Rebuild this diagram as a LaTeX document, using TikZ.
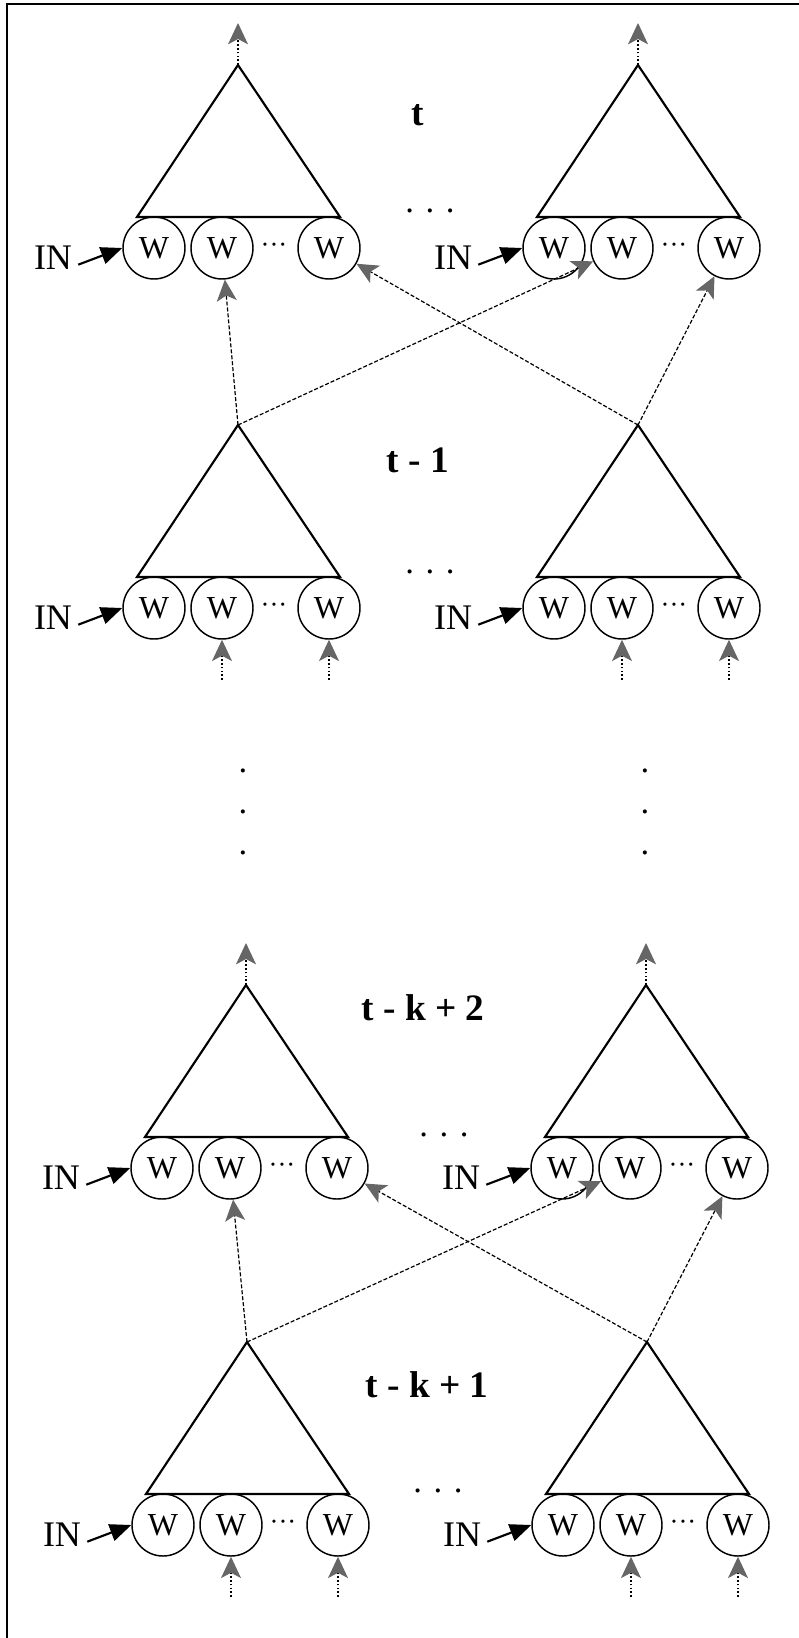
\documentclass[tikz,border=0pt]{standalone}
\usepackage{fontspec}
\setmainfont{Liberation Serif}
\usetikzlibrary{arrows.meta}
\tikzset{
  tri/.style={line width=1.6pt, line join=miter},
  wc/.style={circle, draw, line width=1.1pt, minimum size=46.5pt, inner sep=0pt, font=\fontsize{24}{26}\selectfont},
  inlbl/.style={inner sep=0pt, font=\fontsize{27}{30}\selectfont},
  inarr/.style={-{Triangle[length=16pt,width=13pt]}, line width=1.6pt},
  mdots/.style={inner sep=0pt, font=\fontsize{20}{22}\selectfont},
  hdots/.style={inner sep=0pt, font=\fontsize{26}{28}\selectfont},
  vdots/.style={inner sep=0pt, align=center, font=\fontsize{26}{30.5}\selectfont},
  lbl/.style={inner sep=0pt, font=\fontsize{28}{30}\selectfont\bfseries},
  gtip/.style={-{Stealth[length=16pt,width=15pt,inset=4pt,color=black!60]}},
  conn/.style={gtip, dash pattern=on 3pt off 1.5pt, line width=0.9pt},
  feed/.style={gtip, dash pattern=on 1.3pt off 1.6pt, line width=1pt},
  frame/.style={line width=1.6pt}
}
\newcommand\mygroup[3]{%
\begin{scope}[shift={(#2,#3)}]
\coordinate (#1a) at (0,0);
\coordinate (#1out) at (0,-42);
\coordinate (#1b2) at (-16,255);
\coordinate (#1b3) at (91,255);
\draw[tri] (0,0) -- (-101,152) -- (102,152) -- cycle;
\node[wc] (#1c1) at (-84,183) {W};
\node[wc] (#1c2) at (-16,183) {W};
\node[wc] (#1c3) at (91,183) {W};
\node[mdots] (#1d) at (36,183) {···};
\node[inlbl] (#1in) at (-185,193) {IN};
\draw[inarr] ([xshift=4.5pt,yshift=-5pt]#1in.east) -- (#1c1.west);
\end{scope}}
\begin{document}
\begin{tikzpicture}[x=0.75pt,y=-0.75pt]
\useasboundingbox (0,0) rectangle (799,1638);
\draw[frame] (7,1638) -- (7,4) -- (799,4);
% rows
\mygroup{A}{238}{65}
\mygroup{B}{638}{65}
\mygroup{C}{238}{425}
\mygroup{D}{638}{425}
\mygroup{E}{246}{985}
\mygroup{F}{646}{985}
\mygroup{G}{247}{1342}
\mygroup{H}{647}{1342}
% labels
\node[lbl] (l1) at (418,115) {t};
\node[lbl] (l2) at (418,460) {t - 1};
\node[lbl] (l3) at (423,1008) {t - k + 2};
\node[lbl] (l4) at (427,1385) {t - k + 1};
\node[hdots] (h1) at (430,211) {. . .};
\node[hdots] (h2) at (430,572) {. . .};
\node[hdots] (h3) at (444,1135) {. . .};
\node[hdots] (h4) at (438,1491) {. . .};
\node[vdots] (v1) at (243,812) {.\\.\\.};
\node[vdots] (v2) at (645,812) {.\\.\\.};
% outputs
\draw[feed] (Aa) -- (Aout);
\draw[feed] (Ba) -- (Bout);
\draw[feed] (Ea) -- (Eout);
\draw[feed] (Fa) -- (Fout);
% inputs from below
\draw[feed] (Cb2) -- (Cc2);
\draw[feed] (Cb3) -- (Cc3);
\draw[feed] (Db2) -- (Dc2);
\draw[feed] (Db3) -- (Dc3);
\draw[feed] (Gb2) -- (Gc2);
\draw[feed] (Gb3) -- (Gc3);
\draw[feed] (Hb2) -- (Hc2);
\draw[feed] (Hb3) -- (Hc3);
% cross connectors
\draw[conn] (Ca) -- (Ac2);
\draw[conn] (Ca) -- (Bc2);
\draw[conn] (Da) -- (Ac3);
\draw[conn] (Da) -- (Bc3);
\draw[conn] (Ga) -- (Ec2);
\draw[conn] (Ga) -- (Fc2);
\draw[conn] (Ha) -- (Ec3);
\draw[conn] (Ha) -- (Fc3);
\end{tikzpicture}
\end{document}
